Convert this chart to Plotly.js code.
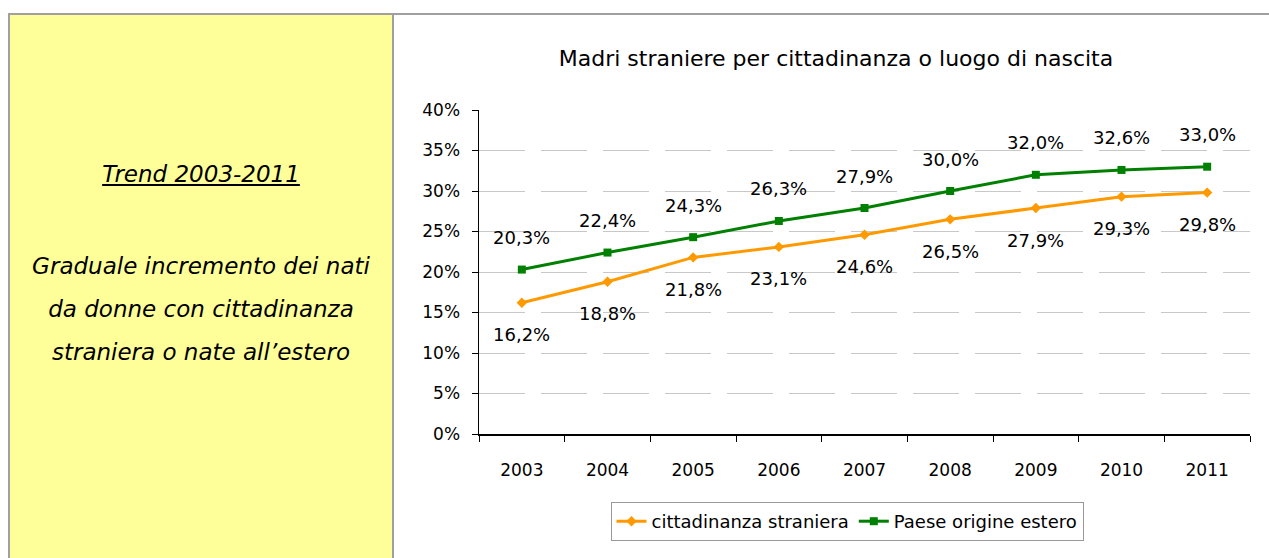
<!DOCTYPE html>
<html>
<head>
<meta charset="utf-8">
<script src="https://cdn.plot.ly/plotly-3.0.1.min.js"></script>
<style>
  html, body { margin: 0; padding: 0; background: #ffffff; }
  body { width: 1269px; height: 558px; position: relative; overflow: hidden; }
  #frameTop { position: absolute; left: 8px; top: 13px; width: 1261px; height: 2px; background: #a0a0a0; }
  #frameLeft { position: absolute; left: 8px; top: 13px; width: 2px; height: 545px; background: #a0a0a0; }
  #panel { position: absolute; left: 10px; top: 15px; width: 382px; height: 543px; background: #ffff99; }
  #divider { position: absolute; left: 392px; top: 13px; width: 2px; height: 545px; background: #a0a0a0; }
  #panel .t { position: absolute; left: 0; width: 382px; text-align: center; font-family: "DejaVu Sans", Verdana, sans-serif; font-style: italic; color: #000; }
  #chart { position: absolute; left: 0; top: 0; width: 1269px; height: 558px; }
</style>
</head>
<body>
<div id="panel">
  <div class="t" style="top:146px; font-size:23px; line-height:27px; text-decoration: underline;">Trend 2003-2011</div>
  <div class="t" style="top:230px; font-size:23px; line-height:43px;">Graduale incremento dei nati<br>da donne con cittadinanza<br>straniera o nate all’estero</div>
</div>
<div id="frameTop"></div>
<div id="frameLeft"></div>
<div id="divider"></div>
<div id="chart"></div>
<script>
// Data
const years = ["2003", "2004", "2005", "2006", "2007", "2008", "2009", "2010", "2011"];
const cittadinanzaStraniera = [16.2, 18.8, 21.8, 23.1, 24.6, 26.5, 27.9, 29.3, 29.8];
const paeseOrigineEstero = [20.3, 22.4, 24.3, 26.3, 27.9, 30.0, 32.0, 32.6, 33.0];
const seriesNames = ["cittadinanza straniera", "Paese origine estero"];
const chartTitle = "Madri straniere per cittadinanza o luogo di nascita";

const fmt = v => v.toFixed(1).replace('.', ',') + '%';
const FONT = '"DejaVu Sans", Verdana, sans-serif';
const ORANGE = '#ff9900';
const GREEN = '#008000';

const traces = [
  {
    x: years, y: cittadinanzaStraniera, name: seriesNames[0],
    type: 'scatter', mode: 'lines+markers',
    line: { color: ORANGE, width: 3 },
    marker: { color: ORANGE, symbol: 'diamond', size: 8 }
  },
  {
    x: years, y: paeseOrigineEstero, name: seriesNames[1],
    type: 'scatter', mode: 'lines+markers',
    line: { color: GREEN, width: 3 },
    marker: { color: GREEN, symbol: 'square', size: 8 }
  }
];

// On a category axis, annotation x positions are category indices
const annotations = [];
years.forEach((yr, i) => {
  annotations.push({ x: i, y: cittadinanzaStraniera[i], xref: 'x', yref: 'y', text: fmt(cittadinanzaStraniera[i]),
    showarrow: false, yshift: -32, font: { family: FONT, size: 18, color: '#000' } });
  annotations.push({ x: i, y: paeseOrigineEstero[i], xref: 'x', yref: 'y', text: fmt(paeseOrigineEstero[i]),
    showarrow: false, yshift: 32, font: { family: FONT, size: 18, color: '#000' } });
});

const layout = {
  width: 1269, height: 558,
  margin: { l: 479, r: 19, t: 110, b: 124 },
  paper_bgcolor: 'rgba(0,0,0,0)',
  plot_bgcolor: 'rgba(0,0,0,0)',
  font: { family: FONT, size: 17, color: '#000' },
  title: {
    text: chartTitle, font: { family: FONT, size: 22, color: '#000' },
    xref: 'container', yref: 'container', x: 836 / 1269, y: 1 - 58 / 558,
    xanchor: 'center', yanchor: 'middle'
  },
  xaxis: {
    type: 'category', range: [-0.5, years.length - 0.5], tickson: 'boundaries', ticks: 'outside', ticklen: 6, tickcolor: '#000',
    showline: true, linecolor: '#000', linewidth: 1.5, showgrid: false,
    tickfont: { family: FONT, size: 17 }, ticklabelstandoff: 20, fixedrange: true
  },
  yaxis: {
    range: [0, 40], dtick: 5, ticksuffix: '%', ticks: 'outside', ticklen: 6, tickcolor: '#000',
    showline: true, linecolor: '#000', linewidth: 1.5,
    showgrid: true, gridcolor: '#c8c8c8', griddash: '46px,16px', gridwidth: 1,
    zeroline: false, tickfont: { family: FONT, size: 17 }, ticklabelstandoff: 8, fixedrange: true
  },
  showlegend: true,
  legend: {
    orientation: 'h', x: (847 - 479) / 771, xanchor: 'center', y: -(502 - 434) / 324, yanchor: 'top',
    bordercolor: '#999', borderwidth: 1, bgcolor: '#fff',
    font: { family: FONT, size: 18, color: '#000' }, itemwidth: 30, tracegroupgap: 0
  },
  annotations: annotations
};

Plotly.newPlot('chart', traces, layout, { displayModeBar: false, staticPlot: true });
</script>
</body>
</html>
